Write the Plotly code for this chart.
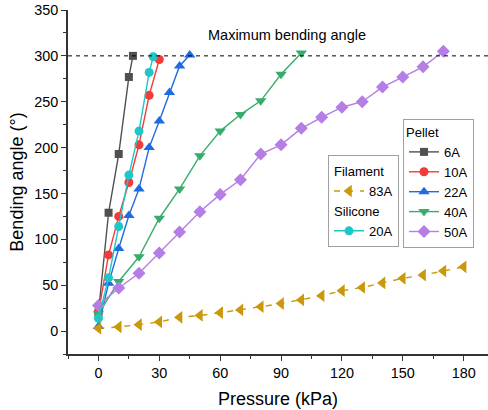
import plotly.graph_objects as go

# ---------------- data ----------------
p6_x = [0, 5, 10, 15, 17]
p6_y = [20, 129, 193, 277, 300]

p10_x = [0, 5, 10, 15, 20, 25, 30]
p10_y = [20, 83, 125, 162, 203, 257, 296]

p22_x = [0, 5, 10, 15, 20, 25, 30, 35, 40, 45]
p22_y = [5, 52, 90, 126, 155, 200, 229, 260, 289, 301]

p40_x = [0, 10, 20, 30, 40, 50, 60, 70, 80, 90, 100]
p40_y = [19, 54, 81, 123, 155, 191, 218, 236, 251, 280, 303]

p50_x = [0, 10, 20, 30, 40, 50, 60, 70, 80, 90, 100, 110, 120, 130, 140, 150, 160, 170]
p50_y = [28, 47, 63, 85, 108, 130, 149, 165, 193, 203, 221, 233, 244, 250, 266, 277, 288, 305]

f83_x = [0, 10, 20, 30, 40, 50, 60, 70, 80, 90, 100, 110, 120, 130, 140, 150, 160, 170, 180]
f83_y = [3, 4.5, 7, 10, 15, 17, 20, 23, 26.5, 30, 34, 38.5, 44, 47.5, 52.5, 57.5, 61, 65.5, 70]

s20_x = [0, 5, 10, 15, 20, 25, 27]
s20_y = [14, 58, 114, 170, 218, 282, 299]

MAX_ANGLE = 300
x_ticks = [0, 30, 60, 90, 120, 150, 180]
y_ticks = [0, 50, 100, 150, 200, 250, 300, 350]

FONT = "Liberation Sans, Arial, sans-serif"
LEG_FONT = 13

fig = go.Figure()

def add(x, y, name, color, symbol, size, legend, group=None, gtitle=None, dash="solid"):
    kw = {}
    if group is not None:
        kw["legendgroup"] = group
        kw["legendgrouptitle"] = dict(text=gtitle, font=dict(size=LEG_FONT, color="black", family=FONT))
    fig.add_trace(go.Scatter(
        x=x, y=y, name=name, mode="lines+markers",
        line=dict(color=color, width=1.4, dash=dash),
        marker=dict(symbol=symbol, size=size, color=color, line=dict(width=0)),
        legend=legend, **kw))

add(p6_x, p6_y, "6A", "#505050", "square", 8, "legend")
add(p10_x, p10_y, "10A", "#f23b3b", "circle", 9, "legend")
add(p22_x, p22_y, "22A", "#1e6ce0", "triangle-up", 10, "legend")
add(p40_x, p40_y, "40A", "#37ad6b", "triangle-down", 10, "legend")
add(p50_x, p50_y, "50A", "#b47ee5", "diamond", 10, "legend")
add(f83_x, f83_y, "83A", "#c9980b", "triangle-left", 11, "legend2",
    group="fil", gtitle="Filament", dash="6px,7px")
add(s20_x, s20_y, "20A", "#1fc6c6", "circle", 9, "legend2",
    group="sil", gtitle="Silicone")

fig.add_shape(type="line", xref="paper", yref="y", x0=0, x1=1, y0=MAX_ANGLE, y1=MAX_ANGLE,
              line=dict(color="black", width=1, dash="4px,4px"))
fig.add_annotation(x=92.8, y=323, xref="x", yref="y", text="Maximum bending angle",
                   showarrow=False, font=dict(size=14.5, color="black", family=FONT))

axis_common = dict(showgrid=False, zeroline=False, showline=True, linecolor="#333333",
                   linewidth=1.5, tickcolor="#333333", tickwidth=1.2, ticklen=5,
                   tickfont=dict(size=14.4, color="black", family=FONT))

W = 488
fig.update_layout(
    width=W, height=410,
    margin=dict(l=68, r=0, t=10, b=56),
    plot_bgcolor="white", paper_bgcolor="white",
    font=dict(family=FONT, color="black"),
    xaxis=dict(range=[-15, 192], tickvals=x_ticks, ticks="outside",
               minor=dict(dtick=15, tick0=15, ticks="outside", ticklen=3, tickcolor="#333333"),
               title=dict(text="Pressure (kPa)", font=dict(size=18, family=FONT), standoff=12),
               **axis_common),
    xaxis2=dict(range=[-15, 192], overlaying="x", side="top", tickvals=x_ticks,
                ticks="inside", showticklabels=False,
                minor=dict(dtick=15, tick0=15, ticks="inside", ticklen=3, tickcolor="#333333"),
                **axis_common),
    yaxis=dict(range=[-25, 350], tickvals=y_ticks, ticks="outside", mirror=False,
               minor=dict(dtick=25, tick0=25, ticks="outside", ticklen=3, tickcolor="#333333"),
               title=dict(text="Bending angle (°)", font=dict(size=18, family=FONT), standoff=6),
               **axis_common),
    legend=dict(x=(403 - 68) / (W - 68), y=0.683, xanchor="left", yanchor="top",
                title=dict(text="Pellet", font=dict(size=LEG_FONT, family=FONT)),
                font=dict(size=LEG_FONT, family=FONT), bgcolor="white",
                bordercolor="#a0a0a0", borderwidth=1, tracegroupgap=0, itemwidth=30),
    legend2=dict(x=(328 - 68) / (W - 68), y=0.578, xanchor="left", yanchor="top",
                 font=dict(size=LEG_FONT, family=FONT), bgcolor="white",
                 bordercolor="#a0a0a0", borderwidth=1, tracegroupgap=0, itemwidth=30),
)

fig.write_html("out.html", config={"displayModeBar": False},
               post_script="document.documentElement.style.overflow='hidden';document.body.style.margin='0px';document.body.style.overflow='hidden';")
